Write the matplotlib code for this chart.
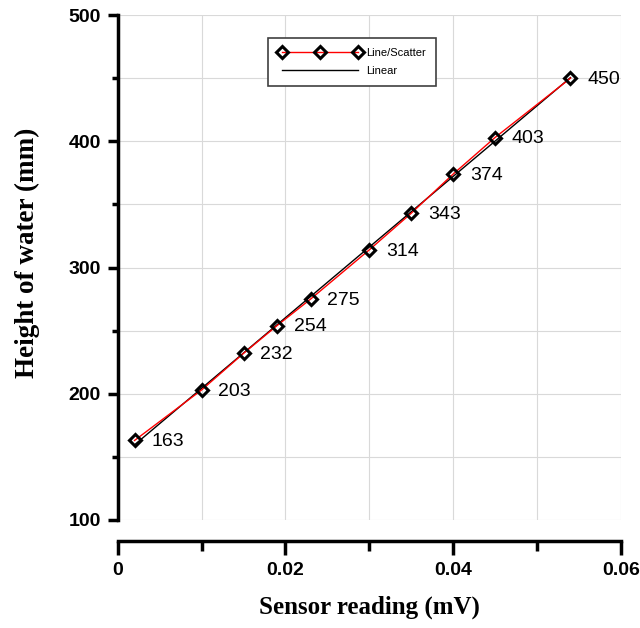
import numpy as np
import matplotlib.pyplot as plt
from matplotlib.ticker import MultipleLocator

# sensor calibration readings
sensor_mv = [0.002, 0.010, 0.015, 0.019, 0.023, 0.030, 0.035, 0.040, 0.045, 0.054]
height_mm = [163, 203, 232, 254, 275, 314, 343, 374, 403, 450]

# linear fit through the readings
slope, intercept = np.polyfit(sensor_mv, height_mm, 1)
fit_x = np.array([min(sensor_mv), max(sensor_mv)])
fit_y = slope * fit_x + intercept

fig = plt.figure(figsize=(6.4, 6.28), dpi=100)
ax = fig.add_axes([0.184, 0.172, 0.786, 0.804])

ax.plot(sensor_mv, height_mm, color="red", lw=1.0, marker="D", ms=6.5,
        mfc="none", mec="black", mew=2.2, label="Line/Scatter", zorder=3)
ax.plot(fit_x, fit_y, color="black", lw=1.0, label="Linear", zorder=2)

for x, y in zip(sensor_mv, height_mm):
    ax.annotate(str(y), (x, y), xytext=(12, -1), textcoords="offset points",
                ha="left", va="center", fontsize=14, family="Liberation Sans")

ax.set_xlim(0, 0.06)
ax.set_ylim(100, 500)
ax.xaxis.set_minor_locator(MultipleLocator(0.01))
ax.yaxis.set_major_locator(MultipleLocator(100))
ax.yaxis.set_minor_locator(MultipleLocator(50))
ax.set_xticks([0, 0.02, 0.04, 0.06])
ax.set_xticklabels(["0", "0.02", "0.04", "0.06"])

ax.grid(True, which="both", color="#d9d9d9", lw=0.8)
ax.set_axisbelow(True)

for side in ["top", "right"]:
    ax.spines[side].set_visible(False)
ax.spines["left"].set_linewidth(2.5)
ax.spines["bottom"].set_linewidth(2.5)
ax.spines["bottom"].set_position(("outward", 15))

ax.tick_params(which="major", direction="out", width=2.5, length=7)
ax.tick_params(which="minor", direction="out", width=2.5, length=4)
ax.tick_params(axis="x", which="major", length=10)
ax.tick_params(axis="x", which="minor", length=7)
for lbl in ax.get_xticklabels() + ax.get_yticklabels():
    lbl.set_family("Liberation Sans")
    lbl.set_fontweight("bold")
    lbl.set_fontsize(14)
ax.tick_params(axis="x", pad=5)
ax.tick_params(axis="y", pad=5)

ax.set_xlabel("Sensor reading (mV)", family="Liberation Serif", fontweight="bold",
              fontsize=18, labelpad=12)
ax.set_ylabel("Height of water (mm)", family="Liberation Serif", fontweight="bold",
              fontsize=19.5)
ax.yaxis.set_label_coords(-0.155, 0.53)

leg = ax.legend(loc="upper left", bbox_to_anchor=(0.288, 0.966), frameon=True,
                fancybox=False, edgecolor="#404040", framealpha=1, numpoints=3,
                prop={"family": "Liberation Sans", "size": 8},
                handlelength=7.5, borderpad=0.9, labelspacing=0.7,
                handletextpad=0.4)
leg.get_frame().set_linewidth(1.2)

fig.savefig("out.png", dpi=100)
